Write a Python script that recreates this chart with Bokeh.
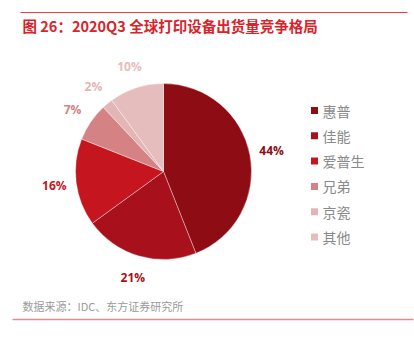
import numpy as np
from bokeh.plotting import figure
from bokeh.models import Range1d, ColumnDataSource
from bokeh.core.properties import value
from bokeh.embed import file_html
from bokeh.resources import INLINE

# ---- data ----
title_text = "图 26：2020Q3 全球打印设备出货量竞争格局"
source_text = "数据来源：IDC、东方证券研究所"
categories = ["惠普", "佳能", "爱普生", "兄弟", "京瓷", "其他"]
shares = [44, 21, 16, 7, 2, 10]
labels = ["44%", "21%", "16%", "7%", "2%", "10%"]
colors = ["#8e0c13", "#a8111b", "#c5161f", "#d48283", "#e4b5b5", "#e5bdbd"]

W, H = 414, 342
p = figure(width=W, height=H, output_backend="svg", toolbar_location=None,
           x_range=Range1d(0, W), y_range=Range1d(0, H), min_border=0)
p.axis.visible = False
p.grid.visible = False
p.outline_line_color = None
p.background_fill_color = "white"
p.border_fill_color = "white"

def Y(y):
    return H - y

# pie
cx, cy, r = 163, Y(171), 88
vals = np.array(shares, dtype=float)
frac = vals / vals.sum()
cum = np.concatenate([[0], np.cumsum(frac)])
start = np.pi / 2 - cum[:-1] * 2 * np.pi
end = np.pi / 2 - cum[1:] * 2 * np.pi
src = ColumnDataSource(dict(start=start, end=end, color=colors))
p.wedge(x=cx, y=cy, radius=r, start_angle="start", end_angle="end",
        direction="clock", fill_color="color", line_color="white",
        line_width=0.6, line_alpha=0.6, source=src)

# percentage labels
mid = (cum[:-1] + cum[1:]) / 2 * 2 * np.pi
lr = 110
lx = cx + lr * np.sin(mid)
ly = cy + lr * np.cos(mid)
lsrc = ColumnDataSource(dict(x=lx, y=ly, t=labels, c=colors))
p.text(x="x", y="y", text="t", text_color="c", source=lsrc,
       text_font=value("Open Sans"), text_font_style="bold",
       text_font_size="12px", text_align="center", text_baseline="middle")

# legend
ly0, dy = 110, 25.3
leg_y = [Y(ly0 + i * dy) for i in range(len(categories))]
p.rect(x=[314] * len(categories), y=leg_y, width=7, height=7,
       fill_color=colors, line_color=None)
p.text(x=[322] * len(categories), y=leg_y, text=categories,
       text_color="#8a8a8a", text_font=value("Noto Sans CJK SC"),
       text_font_size="14px", text_baseline="middle", text_font_style="normal")

# title and decorations
p.line(x=[20, 407], y=[Y(12), Y(12)], line_color="#e8423f", line_width=1)
p.text(x=[22], y=[Y(25)], text=[title_text], text_color="#d9232a",
       text_font=value("Noto Sans CJK SC"), text_font_style="bold",
       text_font_size="14.5px", text_baseline="middle")
p.text(x=[22], y=[Y(305)], text=[source_text], text_color="#9a9a9a",
       text_font=value("Noto Sans CJK SC"), text_font_size="11px",
       text_baseline="middle")
p.line(x=[12, 413], y=[Y(319), Y(319)], line_color="#ec8a8a", line_width=1.5)

open("out.html", "w").write(file_html(p, INLINE))
